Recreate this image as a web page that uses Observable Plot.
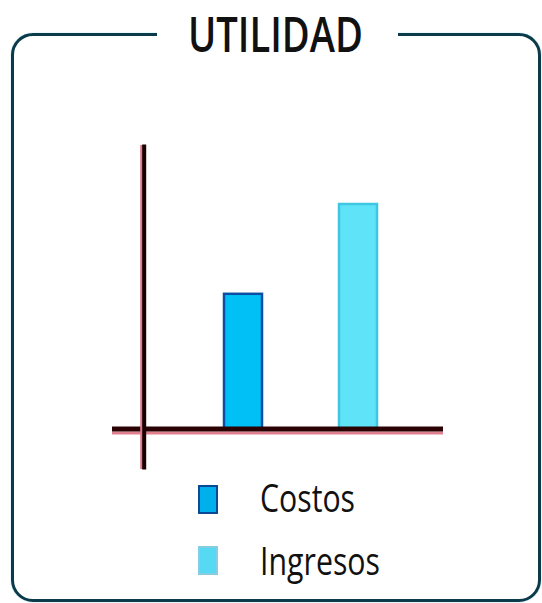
<!DOCTYPE html>
<html>
<head>
<meta charset="utf-8">
<script src="https://cdn.jsdelivr.net/npm/d3@7"></script>
<script src="https://cdn.jsdelivr.net/npm/@observablehq/plot@0.6"></script>
<style>
  html, body { margin: 0; padding: 0; background: #fff; }
  #wrap { position: relative; width: 542px; height: 603px; overflow: hidden; background: #fff; font-family: "Open Sans", sans-serif; }
  #border { position: absolute; left: 11px; top: 33px; width: 530px; height: 569px; box-sizing: border-box;
            border: 3.5px solid #0b3a4a; border-radius: 22px; box-shadow: 0 0 1.5px rgba(60,190,220,0.6); }
  #titlemask { position: absolute; left: 157px; top: 26px; width: 241px; height: 18px; background: #fff; z-index: 2; }
  #title { position: absolute; left: 188px; top: 8.5px; font-size: 49px; line-height: 49px; font-weight: 600;
           color: #111; white-space: nowrap; transform-origin: 0 0; z-index: 3; }
  #chart { position: absolute; left: 0; top: 0; z-index: 1; }
  .sw { position: absolute; left: 198px; width: 20px; height: 29px; box-sizing: border-box; z-index: 3; }
  .lt { position: absolute; left: 260px; font-size: 38px; line-height: 38px; color: #111; white-space: nowrap;
        transform-origin: 0 0; z-index: 3; }
</style>
</head>
<body>
<div id="wrap">
  <div id="border"></div>
  <div id="titlemask"></div>
  <div id="title"></div>
  <div id="chart"></div>
</div>
<script>
// ---- data ----
const titleText = "UTILIDAD";
const categories = ["Costos", "Ingresos"];
const values = [6, 10];

// ---- styles ----
const barFills = ["#00c0f6", "#5fe3f8"];
const barStrokes = ["#0a4fa3", "#3fc6e3"];
const swatchFills = ["#00b0ea", "#58d9f3"];
const swatchStrokes = ["#0b4a92", "#86cde4"];
const legendWidths = [95, 120];
const legendTops = [478, 541];
const swatchTops = [485, 546];

const data = categories.map((c, i) => ({category: c, value: values[i]}));

const chart = Plot.plot({
  width: 542,
  height: 475,
  marginLeft: 143.7,
  marginRight: 99,
  marginTop: 146,
  marginBottom: 8,
  style: {background: "transparent", overflow: "visible"},
  x: {domain: categories, range: [223.5, 376.5], paddingInner: 0.67, paddingOuter: 0, axis: null},
  y: {domain: [0, 10], range: [428.5, 204], axis: null},
  marks: [
    ...categories.map((c, i) => Plot.barY(data.filter(d => d.category === c), {
      x: "category", y: "value", fill: barFills[i], stroke: barStrokes[i], strokeWidth: 2.5
    })),
    Plot.ruleY([0], {stroke: "#e0808f", strokeWidth: 3, dy: 4, insetLeft: -31.7}),
    Plot.ruleY([0], {stroke: "#2a0204", strokeWidth: 5, insetLeft: -31.7}),
    Plot.frame({anchor: "left", stroke: "#dc7c8a", strokeWidth: 3, dx: -2.5}),
    Plot.frame({anchor: "left", stroke: "#1a0002", strokeWidth: 4})
  ]
});
document.getElementById("chart").appendChild(chart);

// title
const t = document.getElementById("title");
t.textContent = titleText;
const tw = t.getBoundingClientRect().width;
t.style.transform = `scaleX(${175 / tw})`;

// legend
const wrap = document.getElementById("wrap");
categories.forEach((c, i) => {
  const s = document.createElement("div");
  s.className = "sw";
  s.style.top = swatchTops[i] + "px";
  s.style.background = swatchFills[i];
  s.style.border = `2.5px solid ${swatchStrokes[i]}`;
  wrap.appendChild(s);
  const l = document.createElement("div");
  l.className = "lt";
  l.style.top = legendTops[i] + "px";
  l.textContent = c;
  wrap.appendChild(l);
  const w = l.getBoundingClientRect().width;
  l.style.transform = `scaleX(${legendWidths[i] / w})`;
});
</script>
</body>
</html>
